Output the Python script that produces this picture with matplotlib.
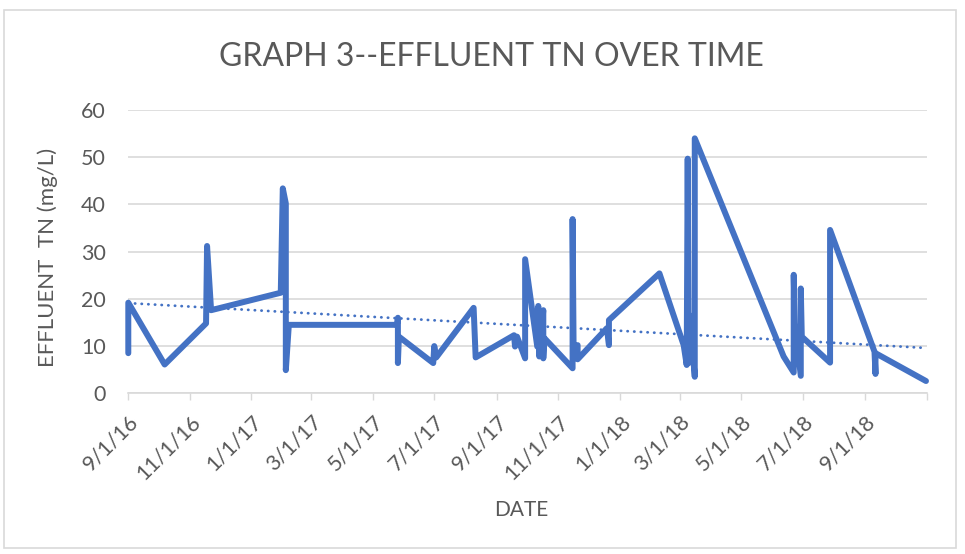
import matplotlib
matplotlib.use('Agg')
import matplotlib.pyplot as plt
import matplotlib.dates as mdates
import numpy as np
import pandas as pd
from matplotlib.patches import Rectangle

# ---------------- data ----------------
sample_dates = [
    '2016-09-01', '2016-09-01', '2016-10-07', '2016-11-17', '2016-11-18', '2016-11-22',
    '2017-01-30', '2017-02-01', '2017-02-04', '2017-02-04', '2017-02-07', '2017-05-25',
    '2017-05-26', '2017-05-26', '2017-05-27', '2017-06-30', '2017-07-01', '2017-07-03',
    '2017-08-09', '2017-08-11', '2017-09-18', '2017-09-19', '2017-09-21', '2017-09-29',
    '2017-09-29', '2017-10-11', '2017-10-12', '2017-10-13', '2017-10-17', '2017-10-17',
    '2017-10-18', '2017-11-15', '2017-11-15', '2017-11-16', '2017-11-20', '2017-11-20',
    '2017-12-19', '2017-12-21', '2017-12-21', '2018-02-09', '2018-03-05', '2018-03-08',
    '2018-03-09', '2018-03-10', '2018-03-11', '2018-03-16', '2018-03-16', '2018-06-12',
    '2018-06-22', '2018-06-22', '2018-06-23', '2018-06-29', '2018-06-29', '2018-06-30',
    '2018-07-28', '2018-07-28', '2018-09-10', '2018-09-11', '2018-09-11', '2018-10-31',
]
effluent_tn = [
    8.5, 19.2, 6.1, 14.8, 31.2, 17.6,
    21.3, 43.4, 40.2, 4.9, 14.5, 14.5,
    16.0, 6.4, 12.0, 6.4, 10.0, 7.6,
    18.1, 7.6, 12.3, 9.9, 12.0, 7.4,
    28.4, 9.9, 18.5, 7.8, 17.6, 7.4,
    11.7, 5.3, 36.9, 9.9, 10.2, 7.2,
    13.8, 10.2, 15.5, 25.4, 10.2, 6.0,
    49.7, 6.4, 16.5, 3.5, 54.0, 7.8,
    4.4, 25.1, 14.8, 3.7, 22.2, 12.0,
    6.5, 34.6, 8.8, 4.1, 8.5, 2.6,
]
# linear trendline (as shown in the chart) at the first and last sample dates
trend_values = [19.1, 9.6]

tick_dates = ['2016-09-01', '2016-11-01', '2017-01-01', '2017-03-01', '2017-05-01',
              '2017-07-01', '2017-09-01', '2017-11-01', '2018-01-01', '2018-03-01',
              '2018-05-01', '2018-07-01', '2018-09-01', '2018-11-01']
tick_labels = ['9/1/16', '11/1/16', '1/1/17', '3/1/17', '5/1/17', '7/1/17', '9/1/17',
               '11/1/17', '1/1/18', '3/1/18', '5/1/18', '7/1/18', '9/1/18', '']
y_ticks = [0, 10, 20, 30, 40, 50, 60]

title = 'GRAPH 3--EFFLUENT TN OVER TIME'
x_title = 'DATE'
y_title = 'EFFLUENT  TN (mg/L)'

# ---------------- style ----------------
plt.rcParams['font.family'] = ['Lato', 'DejaVu Sans']
BLUE = '#4472C4'
GRID = '#D9D9D9'
TXT = '#595959'

fig = plt.figure(figsize=(9.65, 5.54), dpi=100)
ax = fig.add_axes([128.3 / 965, 1 - 393.3 / 554, (927 - 128.3) / 965, (393.3 - 110) / 554])

x = pd.to_datetime(sample_dates)
ax.plot(x, effluent_tn, color=BLUE, lw=4.3, solid_capstyle='round',
        solid_joinstyle='round', zorder=3, clip_on=False)

ax.plot([x[0], x[-1]], trend_values, color=BLUE, lw=2.0,
        linestyle=(0, (0.1, 2.3)), dash_capstyle='round', zorder=4, clip_on=False)

ax.set_xlim(pd.Timestamp(tick_dates[0]), pd.Timestamp(tick_dates[-1]))
ax.set_ylim(0, 60)
ax.set_xticks(pd.to_datetime(tick_dates))
ax.set_xticklabels(tick_labels, rotation=45, ha='right', rotation_mode='anchor',
                   fontsize=15.5, color=TXT)
ax.set_yticks(y_ticks)
ax.set_yticklabels([str(v) for v in y_ticks], fontsize=15.5, color=TXT)
ax.tick_params(axis='y', length=0, pad=16)
ax.tick_params(axis='x', length=5, width=1, color=GRID, pad=8)

ax.grid(axis='y', color=GRID, lw=1.2)
ax.set_axisbelow(True)
for s in ['top', 'right', 'left']:
    ax.spines[s].set_visible(False)
ax.spines['bottom'].set_color(GRID)
ax.spines['bottom'].set_linewidth(1.2)

fig.text(491 / 965, 1 - 57 / 554, title, ha='center', va='center', fontsize=23, color=TXT)
fig.text(521 / 965, 1 - 510 / 554, x_title, ha='center', va='center', fontsize=15, color=TXT)
fig.text(48 / 965, 1 - 257 / 554, y_title, ha='center', va='center', rotation=90,
         fontsize=16, color=TXT)

fig.patches.append(Rectangle((4 / 965, 1 - 548 / 554), 952 / 965, 538 / 554,
                             transform=fig.transFigure, fill=False, edgecolor=GRID, lw=1.2))

fig.savefig('out.png', dpi=100)
